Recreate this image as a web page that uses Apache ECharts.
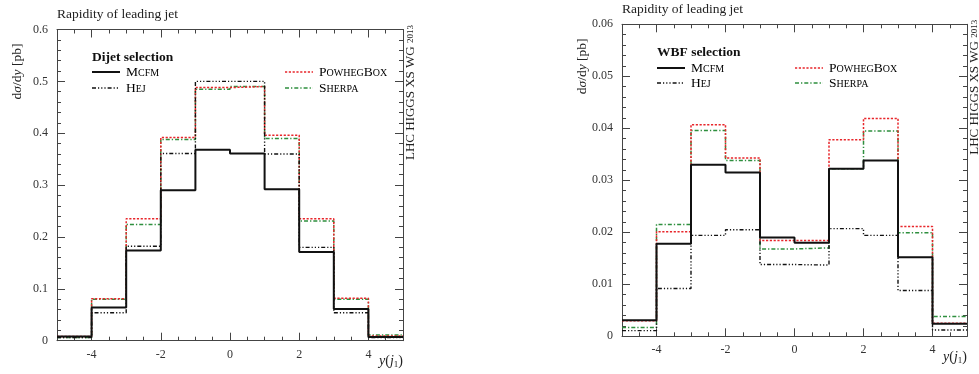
<!DOCTYPE html>
<html>
<head>
<meta charset="utf-8">
<script src="https://cdn.jsdelivr.net/npm/echarts@6/dist/echarts.min.js"></script>
<style>
  html, body { margin: 0; padding: 0; background: #fff; }
  #chart { width: 979px; height: 374px; }
</style>
</head>
<body>
<div id="chart"></div>
<script>
// bin edges in y(j1), 10 bins of width 1
const binEdges = [-5, -4, -3, -2, -1, 0, 1, 2, 3, 4, 5];
const xLabels = [-4, -2, 0, 2, 4];

// Dijet selection, dσ/dy [pb]
const dijetMcfm   = [0.008, 0.064, 0.174, 0.290, 0.368, 0.361, 0.292, 0.171, 0.061, 0.007];
const dijetHej    = [0.006, 0.054, 0.182, 0.361, 0.500, 0.500, 0.360, 0.180, 0.054, 0.006];
const dijetPowheg = [0.008, 0.081, 0.235, 0.392, 0.488, 0.490, 0.396, 0.235, 0.082, 0.009];
const dijetSherpa = [0.006, 0.080, 0.224, 0.388, 0.485, 0.490, 0.390, 0.231, 0.080, 0.011];

// WBF selection, dσ/dy [pb]
const wbfMcfm   = [0.0031, 0.0178, 0.0330, 0.0315, 0.0190, 0.0180, 0.0322, 0.0338, 0.0152, 0.0024];
const wbfHej    = [0.0011, 0.0092, 0.0194, 0.0205, 0.0138, 0.0137, 0.0207, 0.0194, 0.0088, 0.0012];
const wbfPowheg = [0.0030, 0.0201, 0.0407, 0.0343, 0.0184, 0.0184, 0.0378, 0.0419, 0.0211, 0.0025];
const wbfSherpa = [0.0017, 0.0215, 0.0396, 0.0338, 0.0168, 0.0170, 0.0322, 0.0395, 0.0199, 0.0038];

const FONT = "Liberation Serif";
const AXIS_COLOR = "#444";
const RED = "#e8262b";
const GREEN = "#2e8f3e";

// styles for each generator
const styles = {
  Sherpa: { color: GREEN, width: 1.5, type: [4, 2, 1.3, 2] },
  PowhegBox: { color: RED, width: 1.5, type: [2.2, 1.6] },
  Hej: { color: "#111", width: 1.4, type: [4, 2, 1.2, 2, 1.2, 2, 1.2, 2] },
  Mcfm: { color: "#111", width: 2, type: "solid" },
};

// histogram as step line: each edge carries the value of the bin starting there
function hist(vals) {
  return binEdges.map((e, i) => [e, vals[Math.min(i, vals.length - 1)]]);
}

function xAxesFor(grid) {
  const base = {
    gridIndex: grid, type: "value", min: -5, max: 5,
    splitLine: { show: false },
  };
  const line = { onZero: false, lineStyle: { color: AXIS_COLOR, width: 1 } };
  return [
    // bottom, short ticks every 0.5 + labels
    Object.assign({}, base, {
      position: "bottom", interval: 0.5,
      axisLine: line,
      axisTick: { inside: true, length: 4, lineStyle: { color: AXIS_COLOR } },
      axisLabel: {
        customValues: xLabels, margin: 8,
        color: "#333", fontFamily: FONT, fontSize: 12,
      },
    }),
    // bottom, long ticks at labels
    Object.assign({}, base, {
      position: "bottom", interval: 0.5,
      axisLine: { show: false, onZero: false },
      axisTick: { inside: true, length: 8, customValues: xLabels, lineStyle: { color: AXIS_COLOR } },
      axisLabel: { show: false },
    }),
    // top frame
    Object.assign({}, base, {
      position: "top", interval: 0.5,
      axisLine: line,
      axisTick: { inside: true, length: 4, lineStyle: { color: AXIS_COLOR } },
      axisLabel: { show: false },
    }),
    Object.assign({}, base, {
      position: "top", interval: 0.5,
      axisLine: { show: false, onZero: false },
      axisTick: { inside: true, length: 8, customValues: xLabels, lineStyle: { color: AXIS_COLOR } },
      axisLabel: { show: false },
    }),
  ];
}

function yAxesFor(grid, max, interval) {
  const base = {
    gridIndex: grid, type: "value", min: 0, max: max, interval: interval,
    splitLine: { show: false },
    axisLine: { show: true, onZero: false, lineStyle: { color: AXIS_COLOR, width: 1 } },
    axisTick: { inside: true, length: 8, lineStyle: { color: AXIS_COLOR } },
    minorTick: { show: true, splitNumber: 5, length: 4, lineStyle: { color: AXIS_COLOR } },
  };
  return [
    Object.assign({}, base, {
      position: "left",
      axisLabel: { color: "#333", fontFamily: FONT, fontSize: 12, margin: 9 },
    }),
    Object.assign({}, base, { position: "right", axisLabel: { show: false } }),
  ];
}

function seriesFor(xIdx, yIdx, sets) {
  return Object.keys(sets).map(name => ({
    name: name,
    type: "line",
    step: "end",
    xAxisIndex: xIdx,
    yAxisIndex: yIdx,
    showSymbol: false,
    symbol: "none",
    silent: true,
    animation: false,
    lineStyle: styles[name],
    data: hist(sets[name]),
  }));
}

// legend text in small caps
const capRich = {
  b: { fontFamily: FONT, fontSize: 13.5, lineHeight: 14, color: "#111", verticalAlign: "bottom" },
  s: { fontFamily: FONT, fontSize: 10, lineHeight: 14, color: "#111", verticalAlign: "bottom", padding: [0, 0, 1, 0] },
};
const capText = {
  Mcfm: "{b|M}{s|CFM}",
  Hej: "{b|H}{s|EJ}",
  PowhegBox: "{b|P}{s|OWHEG}{b|B}{s|OX}",
  Sherpa: "{b|S}{s|HERPA}",
};

function legendGroup(x, y, heading, colX, rowY) {
  const els = [{
    type: "text", x: x, y: y,
    style: { text: heading, fontFamily: FONT, fontSize: 13.5, fontWeight: "bold", fill: "#111", verticalAlign: "middle" },
  }];
  const order = [["Mcfm", 0, 0], ["Hej", 0, 1], ["PowhegBox", 1, 0], ["Sherpa", 1, 1]];
  order.forEach(([name, c, r]) => {
    const lx = colX[c], ly = y + rowY[r];
    const st = styles[name];
    els.push({
      type: "line",
      shape: { x1: lx, y1: ly, x2: lx + 28, y2: ly },
      style: { stroke: st.color, lineWidth: st.width, lineDash: st.type === "solid" ? null : st.type },
    });
    els.push({
      type: "text", x: lx + 34, y: ly,
      style: { text: capText[name], rich: capRich, verticalAlign: "middle" },
    });
  });
  return els;
}

function panelTexts(left, top, right, bottomY) {
  return [
    {
      type: "text", x: left, y: top - 15,
      style: { text: "Rapidity of leading jet", fontFamily: FONT, fontSize: 13.5, fill: "#222", verticalAlign: "middle" },
    },
    {
      type: "text", x: left - 40, y: top + 42, rotation: Math.PI / 2,
      style: {
        text: "d{i|σ}/d{i|y} [pb]", fontFamily: FONT, fontSize: 13.5, fill: "#222",
        align: "center", verticalAlign: "middle",
        rich: { i: { fontFamily: FONT, fontStyle: "italic", fontSize: 13.5, fill: "#222" } },
      },
    },
    {
      type: "text", x: right + 8, y: top + 63, rotation: Math.PI / 2,
      style: {
        text: "LHC HIGGS XS WG {s|2013}", fontFamily: FONT, fontSize: 13, fill: "#222",
        align: "center", verticalAlign: "middle",
        rich: { s: { fontFamily: FONT, fontSize: 9, fill: "#222" } },
      },
    },
    {
      type: "text", x: right, y: bottomY + 21,
      style: {
        text: "{i|y}({i|j}{sub|1})", fontFamily: FONT, fontSize: 14, fill: "#222",
        align: "right", verticalAlign: "middle",
        rich: {
          i: { fontFamily: FONT, fontStyle: "italic", fontSize: 14, fill: "#222" },
          sub: { fontFamily: FONT, fontSize: 9, fill: "#222", verticalAlign: "bottom", padding: [6, 0, 0, 0] },
        },
      },
    },
  ];
}

const chart = echarts.init(document.getElementById("chart"), null, { renderer: "canvas" });

const option = {
  backgroundColor: "#fff",
  animation: false,
  grid: [
    { left: 57, right: 576, top: 29.5, bottom: 33.3 },
    { left: 622, right: 12, top: 24.3, bottom: 37.7 },
  ],
  xAxis: xAxesFor(0).concat(xAxesFor(1)),
  yAxis: yAxesFor(0, 0.6, 0.1).concat(yAxesFor(1, 0.06, 0.01)),
  series: seriesFor(0, 0, { Sherpa: dijetSherpa, PowhegBox: dijetPowheg, Hej: dijetHej, Mcfm: dijetMcfm })
    .concat(seriesFor(4, 2, { Sherpa: wbfSherpa, PowhegBox: wbfPowheg, Hej: wbfHej, Mcfm: wbfMcfm })),
  graphic: [].concat(
    panelTexts(57, 29.5, 403, 340.7),
    panelTexts(622, 24.3, 967, 336.3),
    legendGroup(92, 58, "Dijet selection", [92, 285], [14, 30]),
    legendGroup(657, 53, "WBF selection", [657, 795], [15, 30])
  ),
};

chart.setOption(option);
window.addEventListener("resize", () => chart.resize());
</script>
</body>
</html>
